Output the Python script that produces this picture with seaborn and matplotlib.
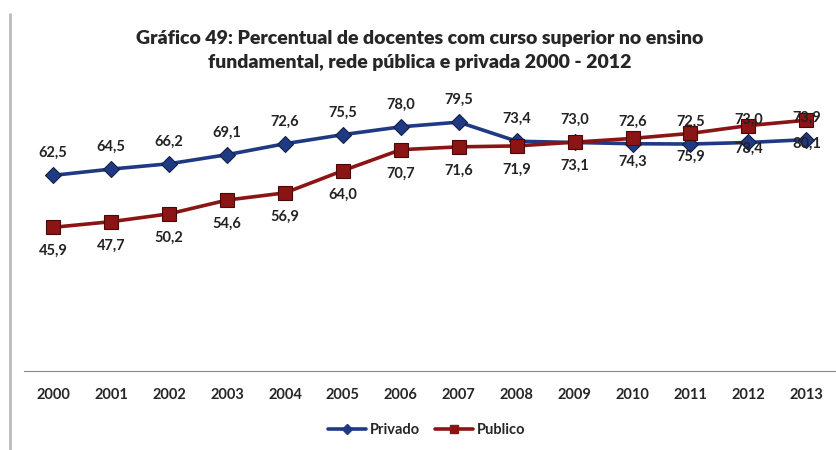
import pandas as pd
import seaborn as sns
import matplotlib.pyplot as plt
from matplotlib.lines import Line2D

anos = [2000, 2001, 2002, 2003, 2004, 2005, 2006, 2007, 2008, 2009, 2010, 2011, 2012, 2013]
privado = [62.5, 64.5, 66.2, 69.1, 72.6, 75.5, 78.0, 79.5, 73.4, 73.0, 72.6, 72.5, 73.0, 73.9]
publico = [45.9, 47.7, 50.2, 54.6, 56.9, 64.0, 70.7, 71.6, 71.9, 73.1, 74.3, 75.9, 78.4, 80.1]

azul = "#1f3a82"
vermelho = "#8b1414"

sns.set_style("white")
plt.rcParams["font.family"] = ["Lato", "DejaVu Sans"]

df = pd.DataFrame({"ano": anos, "Privado": privado, "Publico": publico})

fig = plt.figure(figsize=(8.37, 4.5), dpi=100)
ax = fig.add_axes([0.029, 0.1756, 0.969, 0.6956])

sns.lineplot(data=df, x="ano", y="Privado", ax=ax, color=azul, linewidth=2.6,
             marker="D", markersize=8, markeredgecolor="#10204a", markeredgewidth=0.8)
sns.lineplot(data=df, x="ano", y="Publico", ax=ax, color=vermelho, linewidth=2.6,
             marker="s", markersize=10, markeredgecolor="#4a0808", markeredgewidth=0.8)

# rótulos: Privado acima, Publico abaixo
for a, v in zip(anos, privado):
    ax.annotate(f"{v:.1f}".replace(".", ","), (a, v), xytext=(0, 11),
                textcoords="offset points", ha="center", va="bottom",
                fontsize=10.5, fontweight="bold", color="#222222")
for a, v in zip(anos, publico):
    ax.annotate(f"{v:.1f}".replace(".", ","), (a, v), xytext=(0, -12),
                textcoords="offset points", ha="center", va="top",
                fontsize=10.5, fontweight="bold", color="#222222")

ax.set_xlim(1999.5, 2013.5)
ax.set_ylim(0, 100)
ax.set_xticks(anos)
ax.set_xticklabels([str(a) for a in anos], fontsize=10.5, fontweight="bold")
ax.set_xticks([a - 0.5 for a in anos] + [2013.5], minor=True)
ax.tick_params(axis="x", which="major", length=0, pad=12)
ax.tick_params(axis="x", which="minor", length=5, direction="in", color="#888888")
ax.set_yticks([])
ax.set_xlabel("")
ax.set_ylabel("")
for s in ["top", "right", "left"]:
    ax.spines[s].set_visible(False)
ax.spines["bottom"].set_color("#888888")

fig.text(0.502, 0.915, "Gráfico 49: Percentual de docentes com curso superior no ensino",
         ha="center", va="center", fontsize=14, fontweight="heavy")
fig.text(0.502, 0.862, "fundamental, rede pública e privada 2000 - 2012",
         ha="center", va="center", fontsize=14, fontweight="heavy")

handles = [Line2D([], [], color=azul, lw=2.6, marker="D", markersize=5),
           Line2D([], [], color=vermelho, lw=2.6, marker="s", markersize=6)]
fig.legend(handles, ["Privado", "Publico"], loc="center", bbox_to_anchor=(0.51, 0.045),
           ncol=2, frameon=False, handlelength=2.6, handletextpad=0.3,
           columnspacing=1.0, prop={"weight": "bold", "size": 10.5})

fig.add_artist(Line2D([0.012, 0.012], [0.0, 0.97], color="#bbbbbb", lw=2))

fig.savefig("out.png", dpi=100)
